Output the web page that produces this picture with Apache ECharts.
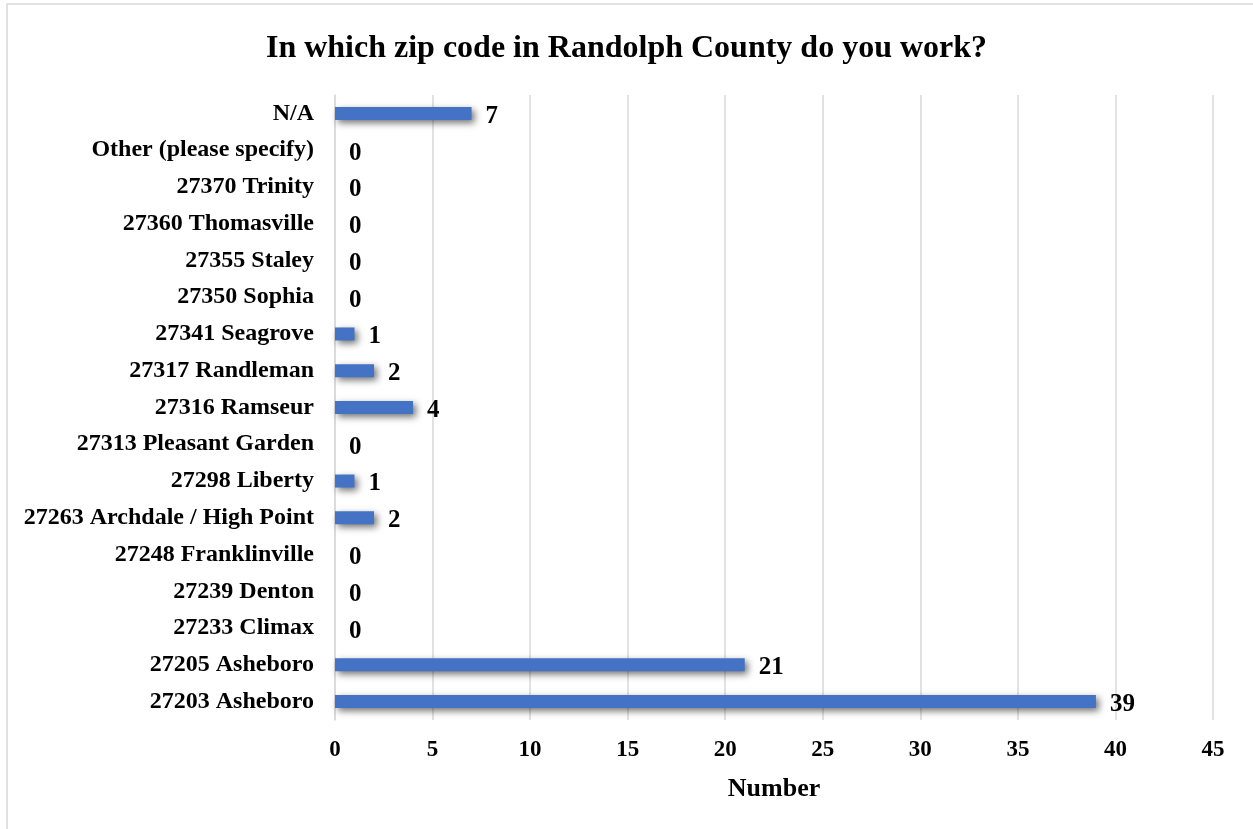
<!DOCTYPE html>
<html>
<head>
<meta charset="utf-8">
<script src="https://cdn.jsdelivr.net/npm/echarts@6/dist/echarts.min.js"></script>
<style>html,body{margin:0;padding:0;background:#fff}#c{width:1253px;height:829px}</style>
</head>
<body>
<div id="c"></div>
<script>
const titleText = 'In which zip code in Randolph County do you work?';
const categories = ['27203 Asheboro','27205 Asheboro','27233 Climax','27239 Denton','27248 Franklinville','27263 Archdale / High Point','27298 Liberty','27313 Pleasant Garden','27316 Ramseur','27317 Randleman','27341 Seagrove','27350 Sophia','27355 Staley','27360 Thomasville','27370 Trinity','Other (please specify)','N/A'];
const values = [39,21,0,0,0,2,1,0,4,2,1,0,0,0,0,0,7];
const xAxisName = 'Number';
const xMin = 0, xMax = 45, xInterval = 5;

const FONT = '"Liberation Serif", "Times New Roman", serif';
const chart = echarts.init(document.getElementById('c'));
chart.setOption({
  backgroundColor: '#fff',
  animation: false,
  graphic: [{
    type: 'rect', shape: {x: 7, y: 4, width: 1300, height: 900},
    style: {fill: 'none', stroke: '#D9D9D9', lineWidth: 1.5}, silent: true, z: -10
  }],
  title: {
    text: titleText, left: 'center', top: 28,
    textStyle: {fontFamily: FONT, fontWeight: 'bold', fontSize: 32, color: '#000'}
  },
  grid: {left: 335, right: 40, top: 95, bottom: 109, containLabel: false},
  xAxis: {
    type: 'value', min: xMin, max: xMax, interval: xInterval,
    name: xAxisName, nameLocation: 'middle', nameGap: 56,
    nameTextStyle: {fontFamily: FONT, fontWeight: 'bold', fontSize: 26, color: '#000'},
    axisLine: {show: false}, axisTick: {show: false},
    axisLabel: {fontFamily: FONT, fontWeight: 'bold', fontSize: 23, color: '#000', margin: 19},
    splitLine: {show: true, lineStyle: {color: '#D9D9D9', width: 1.5}}
  },
  yAxis: {
    type: 'category', data: categories,
    axisLine: {show: true, lineStyle: {color: '#D9D9D9', width: 1.5}},
    axisTick: {show: false},
    axisLabel: {fontFamily: FONT, fontWeight: 'bold', fontSize: 24, color: '#000', margin: 21, padding: [3, 0, 0, 0]}
  },
  series: [{
    type: 'bar', data: values, barWidth: 13,
    itemStyle: {color: '#4472C4', shadowColor: 'rgba(0,0,0,0.55)', shadowBlur: 7, shadowOffsetX: 3, shadowOffsetY: 3},
    label: {show: true, position: 'right', distance: 14, offset: [0, 3],
      fontFamily: FONT, fontWeight: 'bold', fontSize: 25, color: '#000'}
  }]
});
</script>
</body>
</html>
